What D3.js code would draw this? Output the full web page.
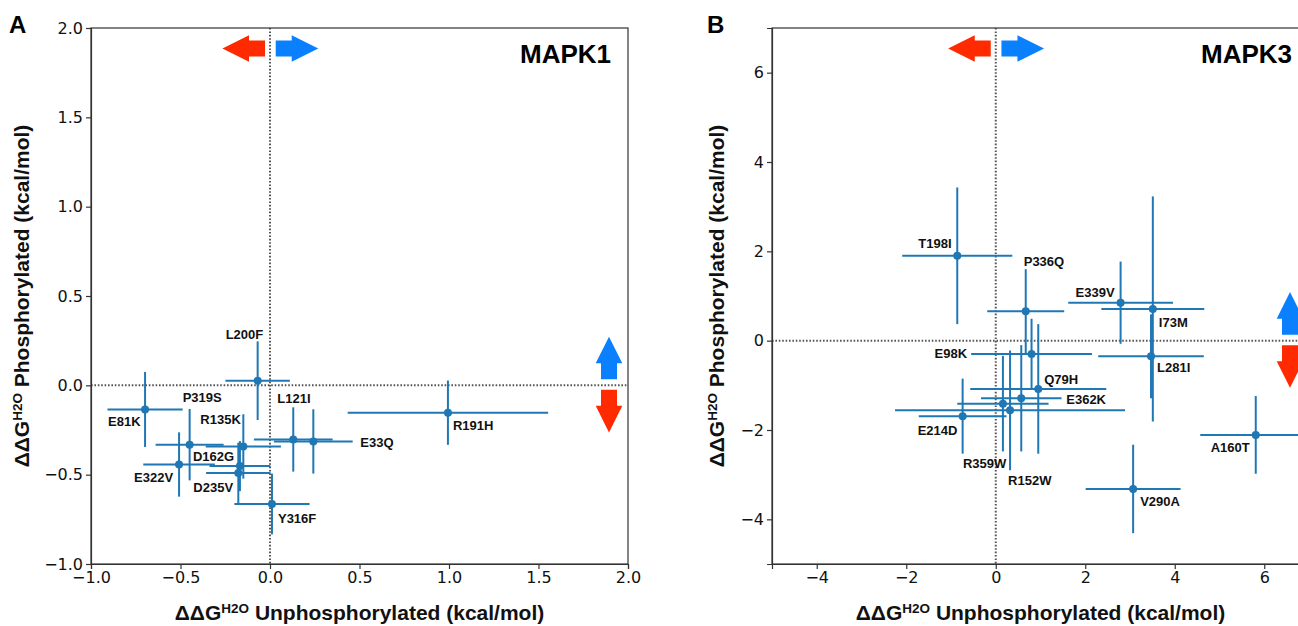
<!DOCTYPE html>
<html>
<head>
<meta charset="utf-8">
<script src="https://cdn.jsdelivr.net/npm/d3@7"></script>
<style>
body { margin: 0; background: #fff; }
.tick text { font-family: "DejaVu Sans", sans-serif; font-size: 16px; fill: #111; }
.domain, .tick line { stroke: #333; stroke-width: 1.2; }
.lbl { font-family: "Liberation Sans", Arial, sans-serif; font-weight: bold; font-size: 13px; fill: #111; }
.axlabel { font-family: "Liberation Sans", Arial, sans-serif; font-weight: bold; font-size: 21px; fill: #111; }
.title { font-family: "Liberation Sans", Arial, sans-serif; font-weight: bold; fill: #000; }
</style>
</head>
<body>
<svg class="chart" width="1298" height="626"></svg>
<script>
// MAPK1 mutants
mapk1_names = ["E81K", "P319S", "R135K", "D162G", "E322V", "D235V", "Y316F", "L121I", "E33Q", "L200F", "R191H"];
mapk1_x     = [-0.698, -0.449, -0.149, -0.168, -0.508, -0.177, 0.011, 0.130, 0.242, -0.069, 0.994];
mapk1_y     = [-0.135, -0.332, -0.342, -0.452, -0.443, -0.491, -0.664, -0.303, -0.314, 0.026, -0.153];
mapk1_xerr  = [0.21, 0.19, 0.21, 0.17, 0.20, 0.18, 0.21, 0.22, 0.22, 0.18, 0.56];
mapk1_yerr  = [0.21, 0.20, 0.18, 0.14, 0.18, 0.17, 0.17, 0.18, 0.18, 0.22, 0.18];
mapk1_ticks = [-1.0, -0.5, 0.0, 0.5, 1.0, 1.5, 2.0];

// MAPK3 mutants
mapk3_names = ["T198I", "P336Q", "E339V", "I73M", "L281I", "A160T", "V290A", "E98K", "Q79H", "E362K", "R359W", "R152W", "E214D"];
mapk3_x     = [-0.86, 0.67, 2.79, 3.51, 3.47, 5.81, 3.07, 0.80, 0.95, 0.57, 0.16, 0.32, -0.74];
mapk3_y     = [1.90, 0.66, 0.85, 0.71, -0.35, -2.11, -3.32, -0.30, -1.08, -1.29, -1.41, -1.56, -1.69];
mapk3_xerr  = [1.23, 0.86, 1.17, 1.15, 1.18, 1.24, 1.06, 1.35, 1.52, 0.90, 1.02, 2.57, 0.98];
mapk3_yerr  = [1.53, 0.94, 0.92, 2.52, 0.94, 0.87, 0.99, 0.79, 1.45, 1.19, 1.07, 1.34, 0.84];
mapk3_ticks = [-4, -2, 0, 2, 4, 6];

// label placement (pixel offsets from the point)
mapk1_label_dx = [-37, -7, -43, -47, -45, -45, 6, -16, 47, -32, 5];
mapk1_label_dy = [17, -43, -22, -5, 18, 19, 19, -36, 6, -42, 17];
mapk3_label_dx = [-39, -2, -45, 6, 6, -45, 7, -97, 6, 45, -40, -2, -45];
mapk3_label_dy = [-8, -45, -6, 18, 16, 17, 17, 4, -5, 6, 64, 75, 19];

var top_y = 28, plot_h = 536, plot_w = 537;
var red = "#ff2a00", blue = "#0a80ff", bar_color = "#1f77b4";

var svg = d3.select(".chart");

function arrow_points(len, head_len, head_w, shaft_w) {
  return [[0, -shaft_w], [len - head_len, -shaft_w], [len - head_len, -head_w], [len, 0],
          [len - head_len, head_w], [len - head_len, shaft_w], [0, shaft_w]].join(" ");
}

function draw_arrow(g, x, y, angle, color) {
  g.append("polygon")
    .attr("points", arrow_points(42.6, 26.6, 13.3, 8))
    .attr("transform", "translate(" + x + "," + y + ") rotate(" + angle + ")")
    .attr("fill", color);
}

function axis_label(g, x, y, rest, rotate) {
  var t = g.append("text")
    .attr("class", "axlabel")
    .attr("text-anchor", "middle")
    .attr("transform", "translate(" + x + "," + y + ")" + (rotate ? " rotate(-90)" : ""));
  t.append("tspan").text("ΔΔG");
  t.append("tspan").attr("font-size", "13.5px").attr("dy", -7.5).text("H2O");
  t.append("tspan").attr("dy", 7.5).text(" " + rest);
}

function draw_panel(p) {
  var g = svg.append("g").attr("transform", "translate(" + p.left + "," + top_y + ")");

  var x = d3.scaleLinear().domain(p.xdomain).range([0, plot_w]);
  var y = d3.scaleLinear().domain(p.ydomain).range([plot_h, 0]);

  // zero lines
  g.append("line")
    .attr("x1", 0).attr("x2", plot_w).attr("y1", y(0)).attr("y2", y(0))
    .attr("stroke", "#555").attr("stroke-width", 2).attr("stroke-dasharray", "1.6,1.8");
  g.append("line")
    .attr("x1", x(0)).attr("x2", x(0)).attr("y1", 0).attr("y2", plot_h)
    .attr("stroke", "#555").attr("stroke-width", 2).attr("stroke-dasharray", "1.6,1.8");

  var idx = d3.range(p.names.length);

  g.selectAll(".xerr").data(idx).enter().append("line")
    .attr("x1", function(i) { return x(p.xs[i] - p.xerr[i]); })
    .attr("x2", function(i) { return x(p.xs[i] + p.xerr[i]); })
    .attr("y1", function(i) { return y(p.ys[i]); })
    .attr("y2", function(i) { return y(p.ys[i]); })
    .attr("stroke", bar_color).attr("stroke-width", 2);

  g.selectAll(".yerr").data(idx).enter().append("line")
    .attr("x1", function(i) { return x(p.xs[i]); })
    .attr("x2", function(i) { return x(p.xs[i]); })
    .attr("y1", function(i) { return y(p.ys[i] - p.yerr[i]); })
    .attr("y2", function(i) { return y(p.ys[i] + p.yerr[i]); })
    .attr("stroke", bar_color).attr("stroke-width", 2);

  g.selectAll("circle").data(idx).enter().append("circle")
    .attr("cx", function(i) { return x(p.xs[i]); })
    .attr("cy", function(i) { return y(p.ys[i]); })
    .attr("r", 4)
    .attr("fill", bar_color);

  g.selectAll(".lbl").data(idx).enter().append("text")
    .attr("class", "lbl")
    .attr("x", function(i) { return x(p.xs[i]) + p.dx[i]; })
    .attr("y", function(i) { return y(p.ys[i]) + p.dy[i]; })
    .text(function(i) { return p.names[i]; });

  // direction arrows
  var ay = 20.5, ax = plot_w - 19;
  draw_arrow(g, x(0) - 5, ay, 180, red);
  draw_arrow(g, x(0) + 5.7, ay, 0, blue);
  draw_arrow(g, ax, y(0) - 6, -90, blue);
  draw_arrow(g, ax, y(0) + 4.5, 90, red);

  g.append("g")
    .attr("transform", "translate(0," + plot_h + ")")
    .call(d3.axisBottom(x).tickValues(p.ticks).tickFormat(d3.format(p.fmt)).tickSize(5).tickPadding(3));
  g.append("g")
    .call(d3.axisLeft(y).tickValues(p.yticks).tickFormat(d3.format(p.fmt)).tickSize(5).tickPadding(3));
  g.append("rect")
    .attr("width", plot_w).attr("height", plot_h)
    .attr("fill", "none").attr("stroke", "#333").attr("stroke-width", 1.2);

  g.append("text")
    .attr("class", "title").attr("font-size", "26px")
    .attr("text-anchor", "end")
    .attr("x", plot_w - 17).attr("y", 34.5)
    .text(p.title);

  svg.append("text")
    .attr("class", "title").attr("font-size", "24px")
    .attr("x", p.letter_x).attr("y", 33)
    .text(p.letter);

  axis_label(svg, p.left + plot_w / 2, 620, "Unphosphorylated (kcal/mol)", false);
  axis_label(svg, p.ylabel_x, top_y + plot_h / 2, "Phosphorylated (kcal/mol)", true);
}

draw_panel({
  left: 91, names: mapk1_names, xs: mapk1_x, ys: mapk1_y, xerr: mapk1_xerr, yerr: mapk1_yerr,
  dx: mapk1_label_dx, dy: mapk1_label_dy,
  xdomain: [-1, 2], ydomain: [-1, 2], ticks: mapk1_ticks, yticks: mapk1_ticks, fmt: ".1f",
  title: "MAPK1", letter: "A", letter_x: 9, ylabel_x: 29
});

draw_panel({
  left: 772, names: mapk3_names, xs: mapk3_x, ys: mapk3_y, xerr: mapk3_xerr, yerr: mapk3_yerr,
  dx: mapk3_label_dx, dy: mapk3_label_dy,
  xdomain: [-5, 7], ydomain: [-5, 7], ticks: mapk3_ticks, yticks: mapk3_ticks, fmt: "d",
  title: "MAPK3", letter: "B", letter_x: 707, ylabel_x: 724
});
</script>
</body>
</html>
